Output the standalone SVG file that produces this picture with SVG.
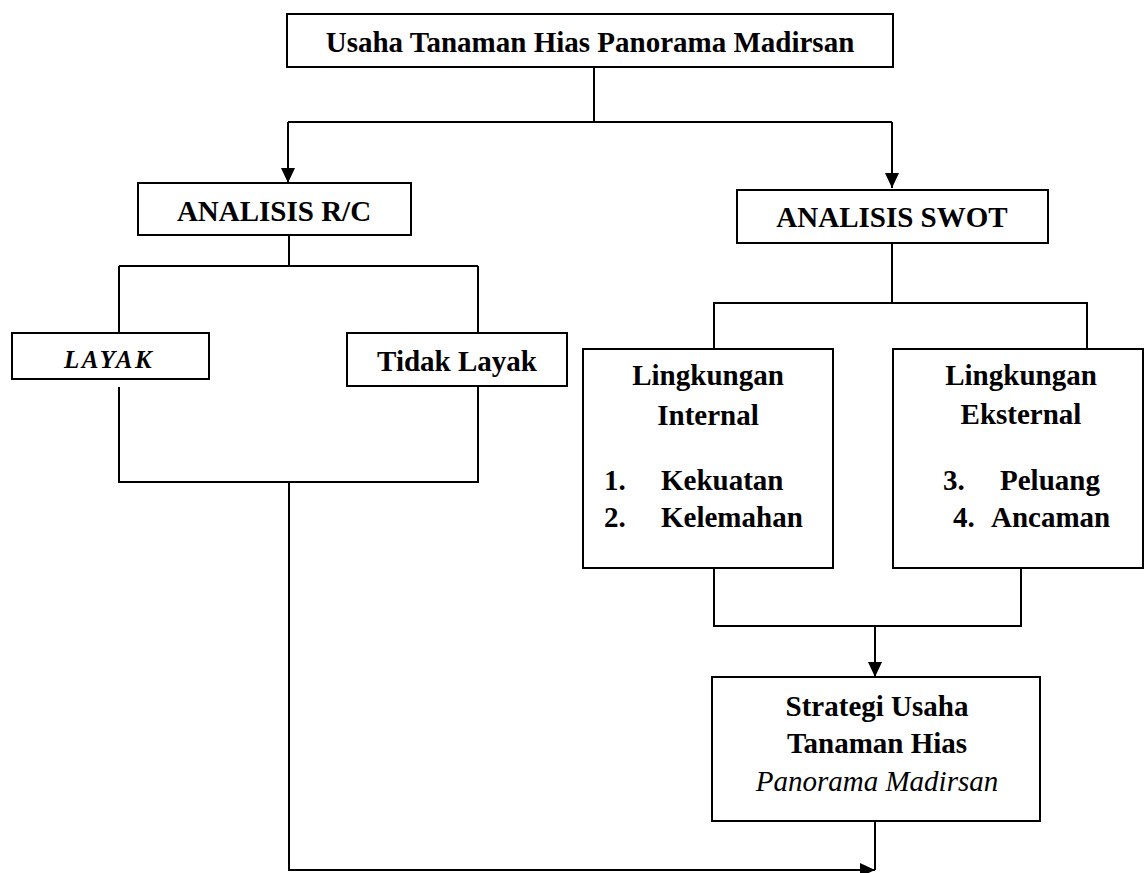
<svg xmlns="http://www.w3.org/2000/svg" width="1145" height="873" viewBox="0 0 1145 873">
  <style>
    .box { fill: #ffffff; stroke: #000000; stroke-width: 2; }
    .ln { fill: none; stroke: #000000; stroke-width: 2; }
    .t { font-family: "Liberation Serif", "Times New Roman", serif; font-size: 29px; font-weight: bold; fill: #000000; }
    .c { text-anchor: middle; }
    .it { font-style: italic; }
    .lt { font-style: italic; font-weight: normal; }
  </style>
  <defs>
    <marker id="arr" markerUnits="userSpaceOnUse" markerWidth="16" markerHeight="14" refX="15" refY="7" orient="auto">
      <path d="M0,0 L15,7 L0,14 Z" fill="#000000"/>
    </marker>
  </defs>

  <g id="connectors">
    <path class="ln" d="M594,67 V122"/>
    <path class="ln" d="M288,122 H892"/>
    <path class="ln" d="M288,122 V183" marker-end="url(#arr)"/>
    <path class="ln" d="M892,122 V188" marker-end="url(#arr)"/>
    <path class="ln" d="M289,235 V266"/>
    <path class="ln" d="M119,266 H478"/>
    <path class="ln" d="M119,266 V333"/>
    <path class="ln" d="M478,266 V333"/>
    <path class="ln" d="M119,387 V482 H478 V386"/>
    <path class="ln" d="M892,243 V303"/>
    <path class="ln" d="M714,349 V303 H1087 V349"/>
    <path class="ln" d="M714,568 V626 H1021 V568"/>
    <path class="ln" d="M875,626 V677" marker-end="url(#arr)"/>
    <path class="ln" d="M289,482 V870 H875" marker-end="url(#arr)"/>
    <path class="ln" d="M875,821 V870"/>
  </g>

  <g id="node-usaha">
    <rect class="box" x="287" y="14" width="606" height="53"/>
    <text class="t c" x="590" y="52">Usaha Tanaman Hias Panorama Madirsan</text>
  </g>

  <g id="node-rc">
    <rect class="box" x="138" y="183" width="273" height="52"/>
    <text class="t c" x="274" y="221">ANALISIS R/C</text>
  </g>

  <g id="node-swot">
    <rect class="box" x="737" y="190" width="311" height="53"/>
    <text class="t c" x="892" y="227">ANALISIS SWOT</text>
  </g>

  <g id="node-layak">
    <rect class="box" x="12" y="333" width="197" height="46"/>
    <text class="t it" x="64" y="368" style="font-size:25px; letter-spacing:2.6px">LAYAK</text>
  </g>

  <g id="node-tidak-layak">
    <rect class="box" x="347" y="333" width="220" height="53"/>
    <text class="t c" x="457" y="371">Tidak Layak</text>
  </g>

  <g id="node-internal">
    <rect class="box" x="583" y="349" width="250" height="219"/>
    <text class="t c" x="708" y="385">Lingkungan</text>
    <text class="t c" x="708" y="425">Internal</text>
    <text class="t" y="490"><tspan x="604">1.</tspan><tspan x="661">Kekuatan</tspan></text>
    <text class="t" y="527"><tspan x="604">2.</tspan><tspan x="661">Kelemahan</tspan></text>
  </g>

  <g id="node-eksternal">
    <rect class="box" x="893" y="349" width="250" height="219"/>
    <text class="t c" x="1021" y="385">Lingkungan</text>
    <text class="t c" x="1021" y="424">Eksternal</text>
    <text class="t" y="490"><tspan x="943">3.</tspan><tspan x="1000">Peluang</tspan></text>
    <text class="t" y="527"><tspan x="953">4.</tspan><tspan x="991">Ancaman</tspan></text>
  </g>

  <g id="node-strategi">
    <rect class="box" x="712" y="677" width="328" height="144"/>
    <text class="t c" x="877" y="716">Strategi Usaha</text>
    <text class="t c" x="877" y="753">Tanaman Hias</text>
    <text class="t c lt" x="877" y="791">Panorama Madirsan</text>
  </g>
</svg>
